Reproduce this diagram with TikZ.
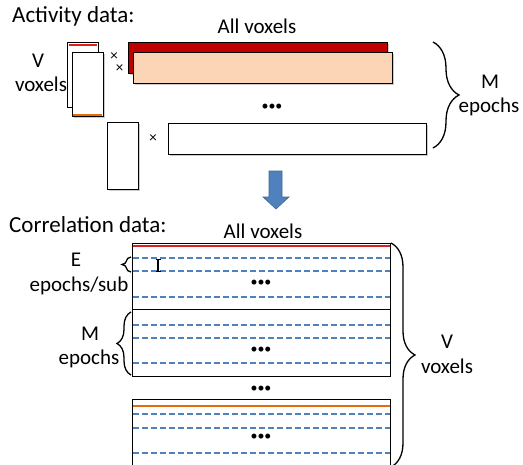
\documentclass[tikz,border=0pt]{standalone}
\usepackage{fontspec}
\setmainfont{Carlito}
\usetikzlibrary{shadows,decorations.pathreplacing,arrows.meta}
\definecolor{darkred}{HTML}{C00000}
\definecolor{peach}{HTML}{FBD5B5}
\definecolor{orng}{HTML}{E46C0A}
\definecolor{bluedash}{HTML}{4F81BD}
\definecolor{redline}{HTML}{E02020}
\begin{document}
\begin{tikzpicture}[x=1pt,y=-1pt,
  lbl/.style={font=\fontsize{21}{24}\selectfont, inner sep=0pt, anchor=base},
  head/.style={font=\fontsize{23}{26}\selectfont, inner sep=0pt, anchor=base west},
  times/.style={font=\fontsize{15}{17}\selectfont, inner sep=0pt},
  dots/.style={font=\fontsize{14}{16}\selectfont, inner sep=0pt},
  mat/.style={draw=black, line width=0.9pt, inner sep=0pt, anchor=north west},
  shd/.style={drop shadow={shadow xshift=1.2pt, shadow yshift=-1.6pt, fill=black!40, opacity=0.5}},
  bdash/.style={draw=bluedash, line width=1.8pt, dash pattern=on 6pt off 3pt},
  brc/.style={decorate, decoration={brace, amplitude=#1}, line width=1.3pt},
]
\useasboundingbox (0,0) rectangle (523,464);

% ---------- Activity data ----------
\node[head] (acttitle) at (12,22) {Activity data:};
\node[lbl] (allvox1) at (257,33) {All voxels};

\node[mat, fill=white, minimum width=31pt, minimum height=65pt] (vback) at (67,42) {};
\draw[redline, line width=1.6pt] (68.5,45) -- (97,45);
\node[mat, fill=white, shd, minimum width=31pt, minimum height=64pt] (vfront) at (72,52) {};
\draw[orng, line width=2pt] (73,114.5) -- (102,114.5);

\node[lbl] (vlbl) at (38,67) {V};
\node[lbl] (voxlbl) at (41,91) {voxels};

\node[times] (x1) at (114,57) {×};
\node[times] (x2) at (119.5,68.5) {×};

\node[mat, fill=darkred, shd, minimum width=259pt, minimum height=31pt] (redrow) at (128,42) {};
\node[mat, fill=peach, shd, minimum width=259pt, minimum height=31pt] (peachrow) at (133,52) {};

\node[dots] (dotsA) at (272,107) {•••};

\node[mat, fill=white, shd, minimum width=31pt, minimum height=67pt] (tallrect) at (107,122) {};
\node[times] (x3) at (153,139) {×};
\node[mat, fill=white, shd, minimum width=258pt, minimum height=31pt] (widerect) at (168,123) {};

\coordinate (bt1) at (433,42);
\coordinate (bt2) at (433,148);
\draw[brc=26pt] (bt1) -- (bt2);
\node[lbl] (mlbl) at (490,88) {M};
\node[lbl] (eplbl) at (489,112) {epochs};

% ---------- arrow ----------
\draw[draw=bluedash!80!black, fill=bluedash, line width=0.6pt]
  (269,171) -- (282,171) -- (282,197) -- (289,197) -- (276,209) -- (263,197) -- (269,197) -- cycle;

% ---------- Correlation data ----------
\node[head] (cortitle) at (9,232) {Correlation data:};
\node[lbl] (allvox2) at (263,238) {All voxels};

\node[mat, minimum width=258pt, minimum height=66pt] (box1) at (132,243) {};
\node[mat, minimum width=258pt, minimum height=67pt] (box2) at (132,309) {};
\node[mat, minimum width=258pt, minimum height=72pt] (box3) at (132,399) {};

\draw[redline, line width=1.6pt] (133,246) -- (389.5,246);
\draw[bdash] (133,258) -- (390,258);
\draw[bdash] (133,271) -- (390,271);
\draw[bdash] (133,297) -- (390,297);
\node[dots] (dotsB) at (261,283) {•••};

\draw[bdash] (133,325) -- (390,325);
\draw[bdash] (133,338) -- (390,338);
\draw[bdash] (133,363) -- (390,363);
\node[dots] (dotsC) at (261,350) {•••};

\node[dots] (dotsD) at (261,389) {•••};

\draw[orng, line width=2pt] (133,406) -- (389.5,406);
\draw[bdash] (133,414) -- (390,414);
\draw[bdash] (133,428) -- (390,428);
\draw[bdash] (133,453) -- (390,453);
\node[dots] (dotsE) at (261,437) {•••};

\draw[line width=1.1pt, {Bar[width=5pt]}-{Bar[width=5pt]}] (158,259) -- (158,272);

\coordinate (eb1) at (131,272);
\coordinate (eb2) at (131,257);
\draw[brc=9pt] (eb1) -- (eb2);
\node[lbl] (elbl) at (76,266) {E};
\node[lbl] (epsub) at (79,291) {epochs/sub};

\coordinate (mb1) at (131,375);
\coordinate (mb2) at (131,312);
\draw[brc=14pt] (mb1) -- (mb2);
\node[lbl] (m2lbl) at (90,340) {M};
\node[lbl] (ep2lbl) at (89,364) {epochs};

\coordinate (vb1) at (391,243);
\coordinate (vb2) at (391,467);
\draw[brc=24pt] (vb1) -- (vb2);
\node[lbl] (v2lbl) at (447,348) {V};
\node[lbl] (vox2lbl) at (447,373) {voxels};
\end{tikzpicture}
\end{document}
